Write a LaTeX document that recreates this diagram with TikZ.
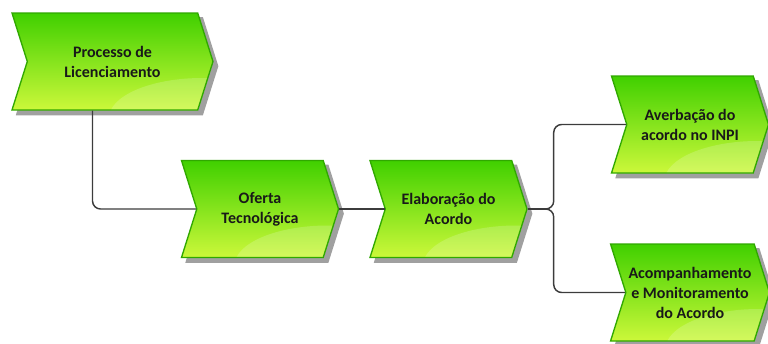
\documentclass[tikz,border=0pt]{standalone}
\usepackage{fontspec}
\setmainfont{Carlito}
\usetikzlibrary{arrows.meta, positioning, shapes.symbols}
\definecolor{topgreen}{HTML}{40D000}
\definecolor{botgreen}{HTML}{CCF83A}
\definecolor{edgegreen}{HTML}{30A800}
\definecolor{shadegray}{HTML}{A0A0A0}
\definecolor{linegray}{HTML}{3C3C3C}

\begin{document}
\begin{tikzpicture}[x=0.75pt, y=-0.75pt,
    proc/.style={signal, signal to=east, signal from=west, signal pointer angle=145,
                 draw=edgegreen, line width=1pt, top color=topgreen, bottom color=botgreen,
                 minimum width=117.75pt, minimum height=72.75pt, inner sep=2pt,
                 font=\fontsize{12}{15}\selectfont\bfseries, text=black!90, align=center,
                 path picture={\fill[white, opacity=0.18]
                     ([xshift=-8pt, yshift=-6pt]path picture bounding box.south east)
                     ellipse (70pt and 30pt);},
                 preaction={fill=shadegray, draw=shadegray,
                            transform canvas={shift={(3.5pt,-3.5pt)}}}},
    conn/.style={draw=linegray, line width=1.1pt, rounded corners=6pt}
]
    \useasboundingbox (0,0) rectangle (768,343);

    \node[proc, minimum width=150.75pt] (p1) at (112.5,61.5) {Processo de\\Licenciamento};
    \node[proc] (p2) at (260,209) {Oferta\\Tecnológica};
    \node[proc] (p3) at (448.5,209) {Elaboração do\\Acordo};
    \node[proc] (p4) at (690,124.5) {Averbação do\\acordo no INPI};
    \node[proc] (p5) at (690,292.5) {Acompanhamento\\e Monitoramento\\do Acordo};

    \coordinate[right=13.5pt of p3.east] (fork);

    \draw[conn] ([xshift=-15pt]p1.south) |- (p2.west);
    \draw[conn] (p2.east) -- (p3.west);
    \draw[conn] (p3.east) -- (fork);
    \draw[conn] (fork) -- ++(6pt,0) |- (p4.west);
    \draw[conn] (fork) -- ++(6pt,0) |- (p5.west);
\end{tikzpicture}
\end{document}
